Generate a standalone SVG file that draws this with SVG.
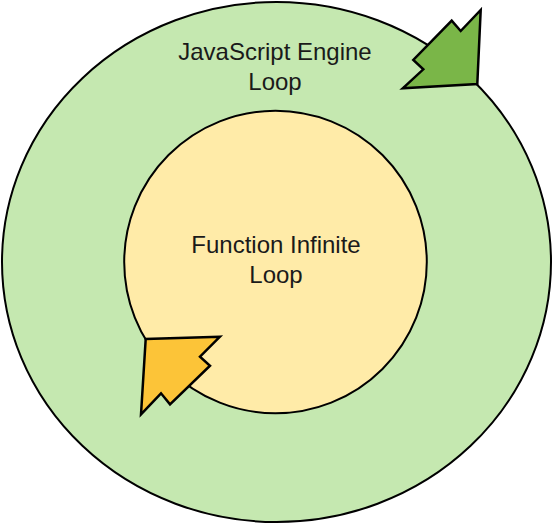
<svg xmlns="http://www.w3.org/2000/svg" width="553" height="525" viewBox="0 0 553 525">
  <style>
    .shape { stroke: #000000; stroke-width: 2; stroke-linejoin: miter; }
    .arrow { stroke: #000000; stroke-width: 2.5; stroke-linejoin: miter; }
    .label { font-family: "Liberation Sans", Arial, sans-serif; font-size: 24px; fill: #1a1a1a; text-anchor: middle; }
  </style>
  <rect width="553" height="525" fill="#ffffff"/>
  <g id="node-engine-loop">
    <ellipse class="shape" cx="276.5" cy="262" rx="274.5" ry="260" fill="#c5e8b0"/>
    <text class="label"><tspan x="275" y="59.5">JavaScript Engine</tspan><tspan x="275" y="90">Loop</tspan></text>
  </g>
  <g id="node-function-loop">
    <circle class="shape" cx="275.5" cy="262" r="151.3" fill="#ffeba8"/>
    <text class="label"><tspan x="276" y="252.5">Function Infinite</tspan><tspan x="276" y="282.5">Loop</tspan></text>
  </g>
  <g id="connectors">
    <polygon id="arrow-engine" class="arrow" fill="#7ab648" points="402.7,88.3 423.3,69.3 413.3,60 451.7,20.7 460.7,31 480.7,10 477.3,84"/>
    <polygon id="arrow-function" class="arrow" fill="#fcc438" points="220,336.7 145.7,339 141,414.3 161,393.3 170,404.3 210,365.7 200,356.7"/>
  </g>
</svg>
